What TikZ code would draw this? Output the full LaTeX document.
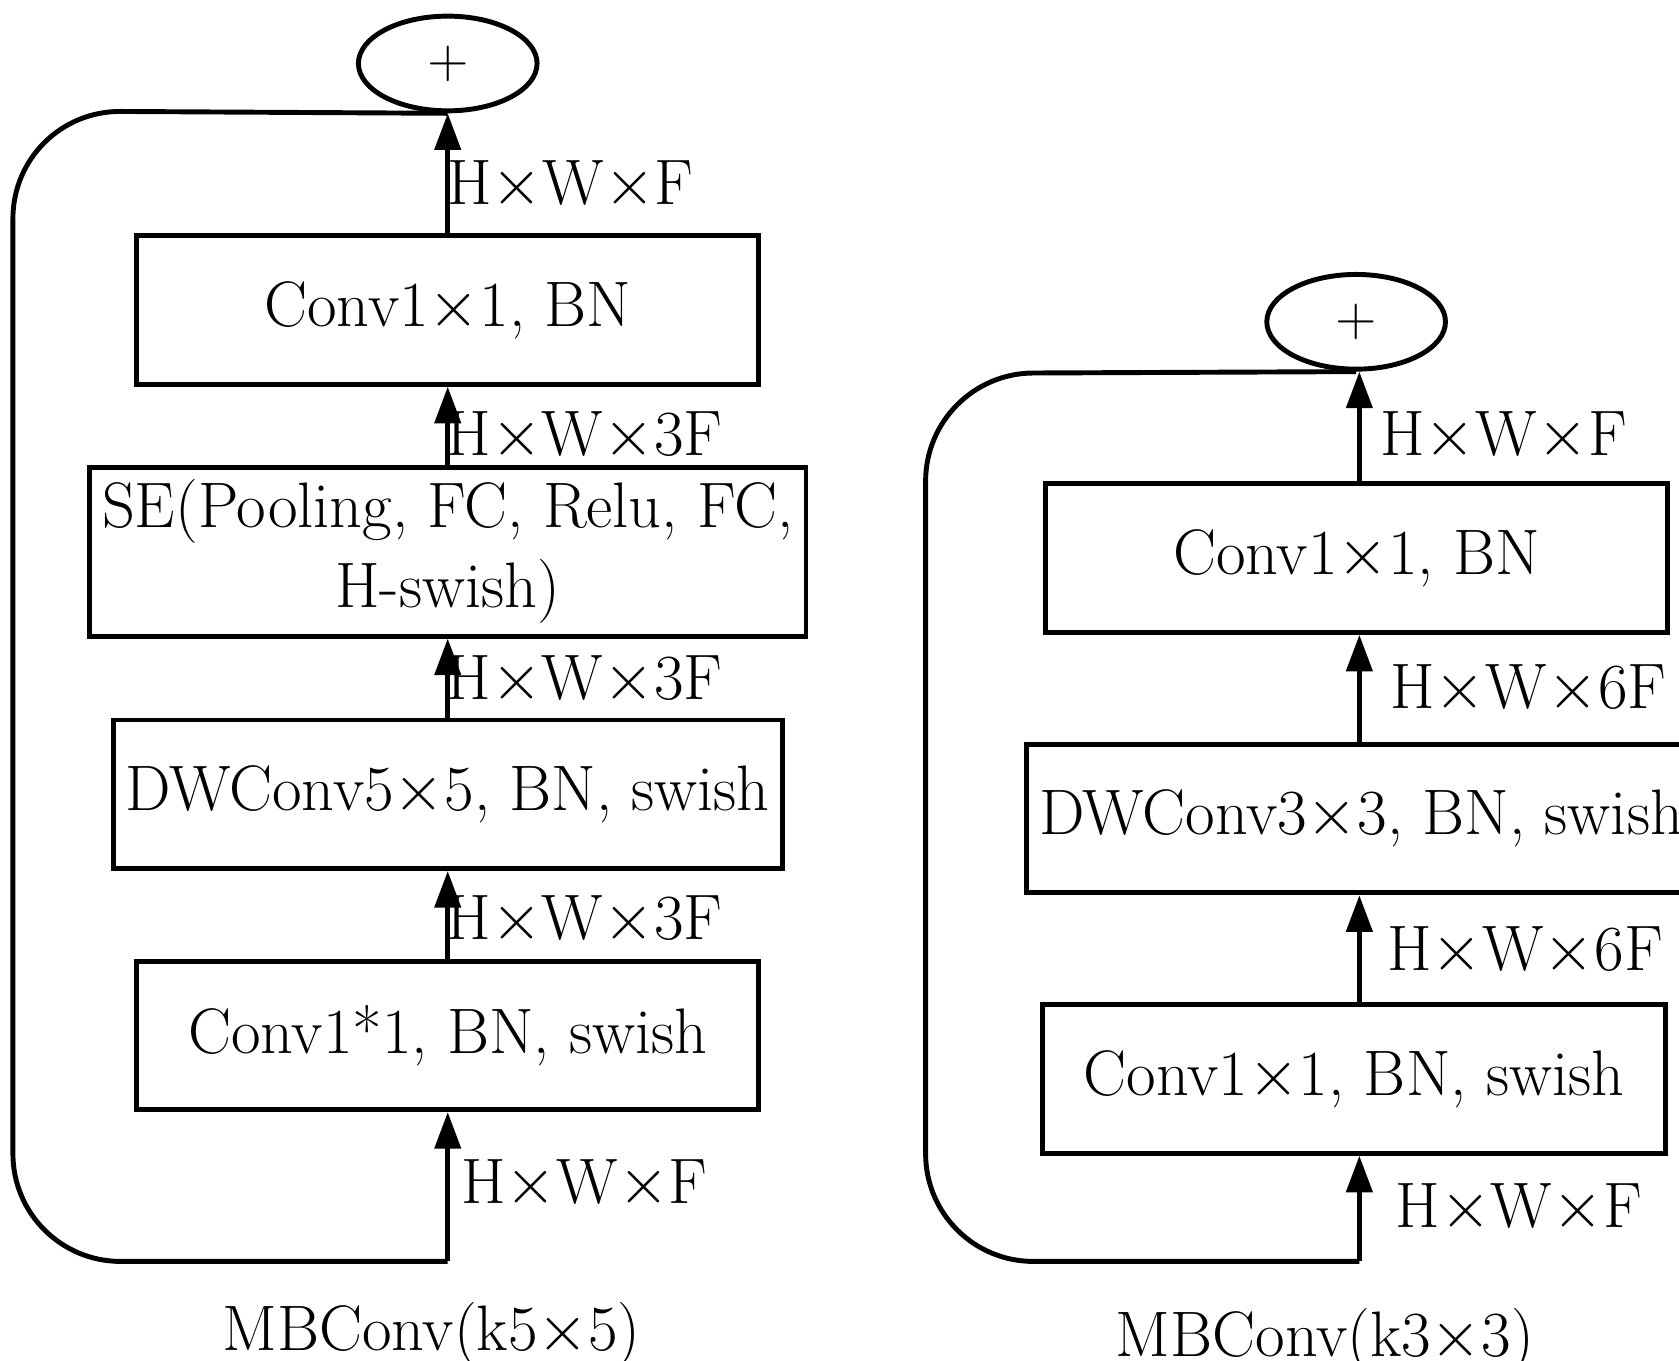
\documentclass[tikz,border=0pt]{standalone}
\usetikzlibrary{arrows.meta,shapes.geometric}
\begin{document}
\begin{tikzpicture}[
  box/.style={draw,line width=1.3pt,minimum width=5.78cm,minimum height=1.38cm,align=center,font=\fontsize{17}{21}\selectfont},
  sum/.style={draw,line width=1.3pt,ellipse,minimum width=1.66cm,minimum height=0.88cm,inner sep=0pt},
  arr/.style={line width=1.3pt,-{Triangle[width=0.24cm,length=0.34cm]}},
  loop/.style={line width=1.3pt,rounded corners=1cm},
  lab/.style={font=\fontsize{17}{21}\selectfont},
  ]
\useasboundingbox (0,0) rectangle (15.6,12.64);
% left column
\node[sum] (sL) at (4.16,12.05) {\Large$+$};
\node[box] (l1) at (4.16,9.76) {Conv1$\times$1, BN};
\node[box] (l2) at (4.16,7.515) {SE(Pooling, FC, Relu, FC,\\H-swish)};
\node[box] (l3) at (4.16,5.26) {DWConv5$\times$5, BN, swish};
\node[box] (l4) at (4.16,3.02) {Conv1*1, BN, swish};
\coordinate (inL) at (4.16,0.92);
\draw[arr] (inL) -- (l4.south);
\draw[arr] (l4.north) -- (l3.south);
\draw[arr] (l3.north) -- (l2.south);
\draw[arr] (l2.north) -- (l1.south);
\draw[arr] (l1.north) -- (sL.south);
\draw[loop] (inL) -- (0.12,0.92) -- (0.12,11.61) -- (sL.south);
\node[lab] (a1) at (5.3,10.92) {H$\times$W$\times$F};
\node[lab] (a2) at (5.43,8.59) {H$\times$W$\times$3F};
\node[lab] (a3) at (5.43,6.32) {H$\times$W$\times$3F};
\node[lab] (a4) at (5.43,4.09) {H$\times$W$\times$3F};
\node[lab] (a5) at (5.43,1.64) {H$\times$W$\times$F};
\node[lab] (capL) at (4.01,0.24) {MBConv(k5$\times$5)};
% right column
\node[sum] (sR) at (12.60,9.65) {\Large$+$};
\node[box] (r1) at (12.605,7.455) {Conv1$\times$1, BN};
\node[box] (r2) at (12.645,5.035) {DWConv3$\times$3, BN, swish};
\node[box] (r3) at (12.58,2.615) {Conv1$\times$1, BN, swish};
\coordinate (inR) at (12.63,0.92);
\draw[arr] (inR) -- (r3.south -| inR);
\draw[arr] (r3.north -| inR) -- (r2.south -| inR);
\draw[arr] (r2.north -| inR) -- (r1.south -| inR);
\draw[arr] (r1.north -| inR) -- (sR.south -| inR);
\draw[loop] (inR) -- (8.60,0.92) -- (8.60,9.17) -- (sR.south);
\node[lab] (b1) at (13.97,8.59) {H$\times$W$\times$F};
\node[lab] (b2) at (14.2,6.24) {H$\times$W$\times$6F};
\node[lab] (b3) at (14.17,3.80) {H$\times$W$\times$6F};
\node[lab] (b4) at (14.11,1.41) {H$\times$W$\times$F};
\node[lab] (capR) at (12.31,0.19) {MBConv(k3$\times$3)};
\end{tikzpicture}
\end{document}
